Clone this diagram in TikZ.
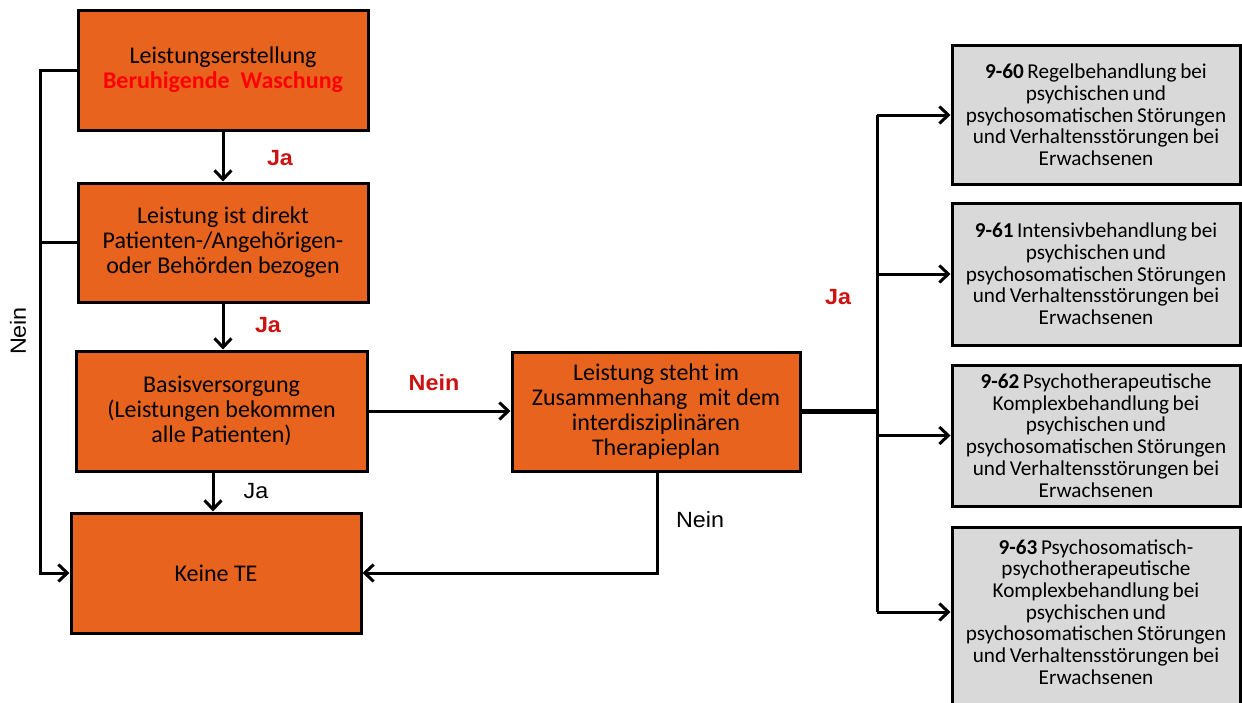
\documentclass[tikz,border=0pt]{standalone}
\usepackage{fontspec}
\setmainfont{Carlito}
\newfontfamily\arialfont{Liberation Sans}[FakeStretch=1.06]
\usetikzlibrary{arrows.meta}
\definecolor{boxorange}{RGB}{232,100,30}
\definecolor{boxgray}{RGB}{217,217,217}
\definecolor{labred}{RGB}{205,18,18}
\definecolor{brightred}{RGB}{255,0,0}
\newcommand{\grayfnt}{\fontsize{21.2}{21.7}\selectfont\spaceskip=0.17em\relax}
\tikzset{
  obox/.style={draw=black, line width=3pt, fill=boxorange, minimum width=290pt, minimum height=120pt, inner sep=0pt, align=center, font=\fontsize{24}{25}\selectfont},
  gbox/.style={draw=black, line width=3pt, fill=boxgray, minimum width=288pt, inner sep=0pt, align=center, font=\grayfnt},
  gtext/.style={inner sep=0pt, align=center, font=\grayfnt},
  conn/.style={line width=3pt},
  arr/.style={line width=3pt, -{Straight Barb[length=9pt,width=17pt,line width=3pt]}},
  redlab/.style={text=labred, font=\arialfont\bfseries\fontsize{22}{25}\selectfont, inner sep=0pt},
  blklab/.style={text=black, font=\arialfont\fontsize{22}{25}\selectfont, inner sep=0pt}
}
\begin{document}
\begin{tikzpicture}[x=1pt,y=-1pt]
\useasboundingbox (0,0) rectangle (1242,702);
\fill[white] (0,0) rectangle (1242,702);
% main boxes
\node[obox] (b1) at (223,70) {Leistungserstellung\\{\color{brightred}\bfseries Beruhigende\ \ Waschung}};
\node[obox, minimum height=119pt] (b2) at (223,242.5) {Leistung ist direkt\\Patienten-/Angehörigen-\\oder Behörden bezogen};
\node[obox, minimum width=291pt] (b3) at (221.5,411) {Basisversorgung\\(Leistungen bekommen\\alle Patienten)};
\node[obox] (b4) at (216,573) {Keine TE};
\node[obox, minimum width=288pt, minimum height=119pt] (b5) at (656,411.5) {Leistung steht im\\Zusammenhang\ \ mit dem\\interdisziplinären\\Therapieplan};
% right boxes
\node[gbox, minimum height=139pt] (r1) at (1096,115) {\textbf{9-60} Regelbehandlung bei\\psychischen und\\psychosomatischen Störungen\\und Verhaltensstörungen bei\\Erwachsenen};
\node[gbox, minimum height=142pt] (r2) at (1096,274) {\textbf{9-61} Intensivbehandlung bei\\psychischen und\\psychosomatischen Störungen\\und Verhaltensstörungen bei\\Erwachsenen};
\node[gbox, minimum height=141pt] (r3) at (1096,435.5) {\textbf{9-62} Psychotherapeutische\\Komplexbehandlung bei\\psychischen und\\psychosomatischen Störungen\\und Verhaltensstörungen bei\\Erwachsenen};
\node[gbox, minimum height=200pt, anchor=north] (r4) at (1096,526) {};
\node[gtext] (r4t) at (1096,612) {\textbf{9-63} Psychosomatisch-\\psychotherapeutische\\Komplexbehandlung bei\\psychischen und\\psychosomatischen Störungen\\und Verhaltensstörungen bei\\Erwachsenen};
% vertical connectors
\draw[arr] (b1.south) -- (b2.north);
\draw[arr] (b2.south) -- (b2.south |- b3.north);
\coordinate (J3) at (213,411);
\draw[arr] (b3.south -| J3) -- (b4.north -| J3);
% left Nein line
\coordinate (L1) at (40,70);
\coordinate (L2) at (40,242.5);
\coordinate (L4) at (40,573);
\draw[arr] (b1.west) -- (L1) -- (L4) -- (b4.west);
\draw[conn] (b2.west) -- (L2);
% Nein to b5
\draw[arr] (b3.east) -- (b5.west |- b3.east);
% b5 Nein back to b4
\coordinate (D1) at (657,573);
\draw[arr] (b5.south -| D1) -- (D1) -- (b4.east);
% bus to right
\coordinate (bus) at (877,411.5);
\coordinate (T1) at (877,115);
\coordinate (T2) at (877,274);
\coordinate (T3) at (877,435.5);
\coordinate (T4) at (877,612);
\draw[line width=4.5pt] (b5.east) -- (bus);
\draw[conn] (T1) -- (T4);
\draw[arr] (T1) -- (r1.west);
\draw[arr] (T2) -- (r2.west);
\draw[arr] (T3) -- (r3.west);
\draw[arr] (T4) -- (r4.west |- T4);
% labels
\node[redlab] (ja1) at (280,158) {Ja};
\node[redlab] (ja2) at (268,325) {Ja};
\node[blklab] (ja3) at (256,491) {Ja};
\node[redlab] (nein1) at (434,383) {Nein};
\node[blklab] (nein2) at (700,520) {Nein};
\node[redlab] (ja4) at (838,297) {Ja};
\node[blklab, rotate=90] (nein3) at (18,331) {Nein};
\end{tikzpicture}
\end{document}
